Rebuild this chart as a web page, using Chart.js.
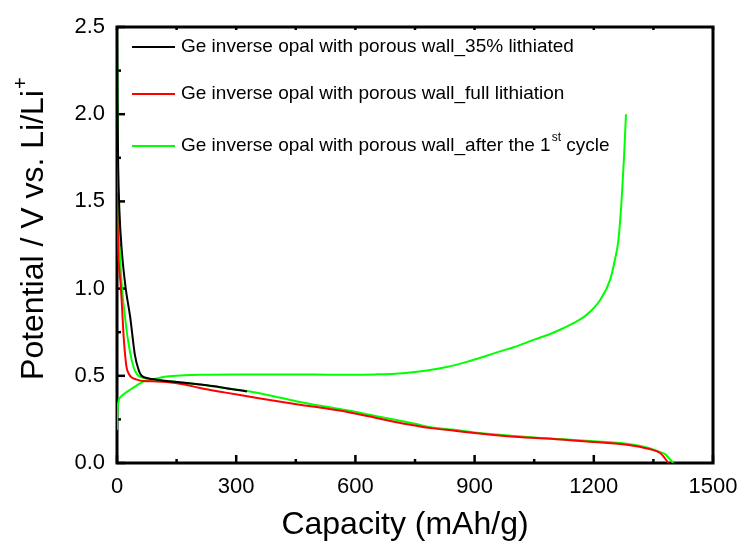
<!DOCTYPE html>
<html>
<head>
<meta charset="utf-8">
<script src="https://cdn.jsdelivr.net/npm/chart.js@4.4.1/dist/chart.umd.min.js"></script>
<style>
  html, body { margin: 0; padding: 0; background: #fff; }
</style>
</head>
<body>
<canvas id="chart" width="745" height="555"></canvas>
<script>
// capacity (mAh/g) / potential (V)
const blackCap = [0, 1, 3, 6, 12, 22, 33, 45, 55, 62, 80, 100, 125, 170, 209, 260, 327];
const blackV = [2.5, 2.1, 1.7, 1.45, 1.22, 1.0, 0.84, 0.62, 0.53, 0.5, 0.485, 0.478, 0.47, 0.46, 0.45, 0.435, 0.41];

const redCap = [0, 1, 3, 6, 9, 13, 16, 20, 24, 30, 37, 50, 66, 100, 125, 170, 209, 270, 335, 400, 460, 520, 586, 650, 700, 750, 790, 850, 900, 1000, 1115, 1200, 1283, 1340, 1367, 1378, 1388];
const redV = [1.55, 1.45, 1.22, 1.1, 1.03, 0.88, 0.75, 0.63, 0.55, 0.51, 0.49, 0.478, 0.47, 0.468, 0.465, 0.45, 0.43, 0.405, 0.38, 0.355, 0.334, 0.315, 0.29, 0.26, 0.235, 0.215, 0.2, 0.185, 0.172, 0.15, 0.135, 0.12, 0.105, 0.08, 0.057, 0.03, 0];

const greenDisCap = [0, 1, 2, 4, 7, 12, 20, 28, 37, 45, 54, 65, 83, 110, 150, 209, 270, 335, 400, 460, 520, 586, 650, 700, 750, 790, 850, 900, 1000, 1115, 1200, 1283, 1340, 1367, 1379, 1390, 1400];
const greenDisV = [2.5, 2.1, 1.75, 1.45, 1.22, 1.02, 0.84, 0.7, 0.59, 0.53, 0.5, 0.49, 0.48, 0.475, 0.465, 0.45, 0.43, 0.41, 0.38, 0.35, 0.325, 0.3, 0.27, 0.248, 0.225, 0.205, 0.19, 0.175, 0.155, 0.137, 0.125, 0.11, 0.085, 0.062, 0.052, 0.025, 0];

const greenChCap = [0, 1, 3, 10, 20, 33, 50, 66, 90, 125, 170, 209, 300, 400, 500, 586, 650, 720, 780, 830, 880, 930, 964, 1000, 1048, 1090, 1115, 1150, 1182, 1216, 1241, 1253, 1262, 1270, 1276, 1281];
const greenChV = [0.19, 0.28, 0.345, 0.38, 0.4, 0.42, 0.445, 0.467, 0.48, 0.496, 0.503, 0.506, 0.508, 0.508, 0.507, 0.506, 0.508, 0.515, 0.53, 0.55, 0.58, 0.615, 0.64, 0.665, 0.706, 0.74, 0.764, 0.803, 0.85, 0.935, 1.05, 1.164, 1.28, 1.508, 1.75, 2.0];

const xTicks = [0, 300, 600, 900, 1200, 1500];
const yTicks = [0, 0.5, 1.0, 1.5, 2.0, 2.5];

const legendLabels = [
  ["Ge inverse opal with porous wall_35% lithiated", ""],
  ["Ge inverse opal with porous wall_full lithiation", ""],
  ["Ge inverse opal with porous wall_after the 1", "st", " cycle"],
];
const legendColors = ["#000000", "#ff0000", "#00ff00"];

const FONT = "'Liberation Sans', Arial, sans-serif";

const toPts = (xs, ys) => xs.map((x, i) => ({ x: x, y: ys[i] }));

const line = (data, color) => ({
  data: data,
  borderColor: color,
  borderWidth: 2,
  pointRadius: 0,
  fill: false,
  cubicInterpolationMode: "monotone",
});

// frame, inward ticks, axis titles, legend
const framePlugin = {
  id: "frame",
  beforeDatasetsDraw(chart) {
    const ctx = chart.ctx;
    const a = chart.chartArea;
    const xs = chart.scales.x;
    const ys = chart.scales.y;
    ctx.save();
    ctx.strokeStyle = "#000";
    ctx.lineWidth = 2.5;
    for (let v = 0; v <= 1500; v += 150) {
      const px = xs.getPixelForValue(v);
      const major = v % 300 === 0;
      ctx.beginPath();
      ctx.moveTo(px, a.bottom);
      ctx.lineTo(px, a.bottom - (major ? 8 : 4));
      ctx.moveTo(px, a.top);
      ctx.lineTo(px, a.top + 3);
      ctx.stroke();
    }
    for (let v = 0; v <= 2.5001; v += 0.25) {
      const py = ys.getPixelForValue(v);
      const major = Math.abs(v * 2 - Math.round(v * 2)) < 1e-6;
      ctx.beginPath();
      ctx.moveTo(a.left, py);
      ctx.lineTo(a.left + (major ? 8 : 4), py);
      ctx.stroke();
    }
    ctx.lineWidth = 3;
    ctx.strokeRect(a.left, a.top, a.right - a.left, a.bottom - a.top);
    ctx.restore();
  },
  afterDraw(chart) {
    const ctx = chart.ctx;
    const a = chart.chartArea;
    ctx.save();
    ctx.fillStyle = "#000";
    // x title
    ctx.font = "32px " + FONT;
    ctx.textAlign = "center";
    ctx.textBaseline = "middle";
    ctx.fillText("Capacity (mAh/g)", (a.left + a.right) / 2 - 10, 525);
    // y title with superscript
    ctx.translate(34, 229);
    ctx.rotate(-Math.PI / 2);
    const main = "Potential / V vs. Li/Li";
    const w = ctx.measureText(main).width;
    ctx.textAlign = "left";
    ctx.fillText(main, -w / 2 - 6, 0);
    ctx.font = "20px " + FONT;
    ctx.fillText("+", w / 2 - 5, -13);
    ctx.restore();

    // legend
    ctx.save();
    const rows = [47, 94, 146];
    ctx.textBaseline = "middle";
    ctx.textAlign = "left";
    legendLabels.forEach((parts, i) => {
      const y = rows[i];
      ctx.strokeStyle = legendColors[i];
      ctx.lineWidth = 2;
      ctx.beginPath();
      ctx.moveTo(132, y);
      ctx.lineTo(175, y);
      ctx.stroke();
      ctx.fillStyle = "#000";
      ctx.font = "19px " + FONT;
      let x = 181;
      ctx.fillText(parts[0], x, y);
      x += ctx.measureText(parts[0]).width;
      if (parts[1]) {
        ctx.font = "12px " + FONT;
        ctx.fillText(parts[1], x + 1, y - 8);
        x += ctx.measureText(parts[1]).width + 1;
        ctx.font = "19px " + FONT;
        ctx.fillText(parts[2], x, y);
      }
    });
    ctx.restore();
  },
};

new Chart(document.getElementById("chart"), {
  type: "line",
  data: {
    datasets: [
      line(toPts(blackCap, blackV), legendColors[0]),
      line(toPts(redCap, redV), legendColors[1]),
      line(toPts(greenDisCap, greenDisV), legendColors[2]),
      line(toPts(greenChCap, greenChV), legendColors[2]),
    ],
  },
  options: {
    responsive: false,
    animation: false,
    devicePixelRatio: 1,
    layout: { padding: { top: 27, right: 32, left: 0, bottom: 0 } },
    plugins: { legend: { display: false }, tooltip: { enabled: false } },
    scales: {
      x: {
        type: "linear",
        min: 0,
        max: 1500,
        afterFit: (s) => {
          s.height = 92;
          s.paddingLeft = 0;
          s.paddingRight = 0;
        },
        afterBuildTicks: (s) => { s.ticks = xTicks.map((v) => ({ value: v })); },
        grid: { display: false, drawTicks: false },
        border: { display: false },
        ticks: {
          color: "#000",
          font: { family: FONT, size: 22 },
          padding: 11,
          maxRotation: 0,
          autoSkip: false,
          callback: (v) => String(v),
        },
      },
      y: {
        type: "linear",
        min: 0,
        max: 2.5,
        afterFit: (s) => {
          s.width = 117;
          s.paddingTop = 0;
          s.paddingBottom = 0;
        },
        afterBuildTicks: (s) => { s.ticks = yTicks.map((v) => ({ value: v })); },
        grid: { display: false, drawTicks: false },
        border: { display: false },
        ticks: {
          color: "#000",
          font: { family: FONT, size: 22 },
          padding: 12,
          autoSkip: false,
          callback: (v) => Number(v).toFixed(1),
        },
      },
    },
  },
  plugins: [framePlugin],
});
</script>
</body>
</html>
